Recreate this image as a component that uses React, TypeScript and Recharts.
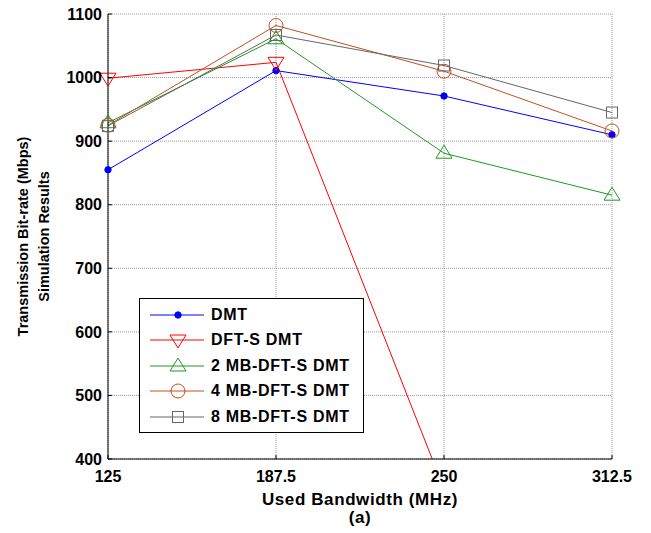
import React from 'react';
import { LineChart, Line, XAxis, YAxis, CartesianGrid, Label } from 'recharts';

const bandwidths = [125, 187.5, 250, 312.5];
const dmt = [855, 1011, 971, 910];
const dftS = [999, 1024, 353, null];
const mb2 = [929, 1061, 881, 815];
const mb4 = [925, 1082, 1010, 916];
const mb8 = [924, 1067, 1019, 945];
const yTicks = [400, 500, 600, 700, 800, 900, 1000, 1100];

const data = bandwidths.map((bw, i) => ({
  bw,
  dmt: dmt[i],
  dftS: dftS[i],
  mb2: mb2[i],
  mb4: mb4[i],
  mb8: mb8[i],
}));

type Shape = 'dot' | 'down' | 'up' | 'circle' | 'square';

const series: { key: string; name: string; color: string; shape: Shape }[] = [
  { key: 'dmt', name: 'DMT', color: '#0000ff', shape: 'dot' },
  { key: 'dftS', name: 'DFT-S DMT', color: '#ff0000', shape: 'down' },
  { key: 'mb2', name: '2 MB-DFT-S DMT', color: '#1f9a1f', shape: 'up' },
  { key: 'mb4', name: '4 MB-DFT-S DMT', color: '#c0501f', shape: 'circle' },
  { key: 'mb8', name: '8 MB-DFT-S DMT', color: '#666666', shape: 'square' },
];

const font = '"Liberation Sans", Arial, sans-serif';

function Marker({ shape, color, cx, cy }: { shape: Shape; color: string; cx: number; cy: number }) {
  if (cx == null || cy == null || isNaN(cx) || isNaN(cy)) return null;
  switch (shape) {
    case 'dot':
      return <circle cx={cx} cy={cy} r={3.2} fill={color} stroke={color} />;
    case 'down':
      return (
        <polygon
          points={`${cx - 8},${cy - 5} ${cx + 8},${cy - 5} ${cx},${cy + 8}`}
          fill="none"
          stroke={color}
          strokeWidth={1}
        />
      );
    case 'up':
      return (
        <polygon
          points={`${cx - 8},${cy + 5} ${cx + 8},${cy + 5} ${cx},${cy - 8}`}
          fill="none"
          stroke={color}
          strokeWidth={1}
        />
      );
    case 'circle':
      return <circle cx={cx} cy={cy} r={7} fill="none" stroke={color} strokeWidth={1} />;
    default:
      return <rect x={cx - 5.5} y={cy - 5.5} width={11} height={11} fill="none" stroke={color} strokeWidth={1} />;
  }
}

const tickStyle = { fontSize: 16, fontWeight: 700, fill: '#000', fontFamily: font };
const xLabelStyle = { fontSize: 17, fontWeight: 700, fontFamily: font, letterSpacing: 0.6 };

export default function App() {
  return (
    <div style={{ position: 'relative', width: 643, height: 525, fontFamily: font }}>
      <LineChart
        width={643}
        height={525}
        data={data}
        margin={{ top: 6, right: 39, bottom: 14, left: 40 }}
        style={{ overflow: 'visible' }}
      >
        <CartesianGrid stroke="#999" strokeDasharray="1 1" />
        <XAxis
          dataKey="bw"
          type="number"
          domain={[125, 312.5]}
          ticks={bandwidths}
          height={60}
          stroke="#000"
          tickSize={-4}
          tickMargin={16}
          tick={tickStyle}
          interval={0}
        >
          <Label
            content={({ viewBox }: any) => (
              <g>
                <text x={viewBox.x + viewBox.width / 2} y={viewBox.y + 46} textAnchor="middle" style={xLabelStyle}>
                  Used Bandwidth (MHz)
                </text>
                <text x={viewBox.x + viewBox.width / 2} y={viewBox.y + 64} textAnchor="middle" style={xLabelStyle}>
                  (a)
                </text>
              </g>
            )}
          />
        </XAxis>
        <XAxis
          xAxisId="top"
          orientation="top"
          dataKey="bw"
          type="number"
          domain={[125, 312.5]}
          ticks={bandwidths}
          height={0}
          stroke="#000"
          tickSize={-4}
          tick={false}
        />
        <YAxis
          domain={[400, 1100]}
          ticks={yTicks}
          allowDataOverflow
          width={60}
          stroke="#000"
          tickSize={-4}
          tickMargin={10}
          tick={tickStyle}
          interval={0}
        >
          <Label
            content={({ viewBox }: any) => {
              const cy = viewBox.y + viewBox.height / 2;
              const x1 = viewBox.x - 20;
              const x2 = viewBox.x + 1;
              return (
                <g style={{ fontSize: 14.5, fontWeight: 700, fontFamily: font }}>
                  <text x={x1} y={cy} textAnchor="middle" transform={`rotate(-90, ${x1}, ${cy})`}>
                    Transmission Bit-rate (Mbps)
                  </text>
                  <text x={x2} y={cy} textAnchor="middle" transform={`rotate(-90, ${x2}, ${cy})`}>
                    Simulation Results
                  </text>
                </g>
              );
            }}
          />
        </YAxis>
        <YAxis
          yAxisId="right"
          orientation="right"
          domain={[400, 1100]}
          ticks={yTicks}
          width={0}
          stroke="#000"
          tickSize={-4}
          tick={false}
        />
        {series.map((s) => (
          <Line
            key={s.key}
            dataKey={s.key}
            name={s.name}
            stroke={s.color}
            strokeWidth={1}
            isAnimationActive={false}
            connectNulls={false}
            dot={(p: any) => <Marker key={`${s.key}-${p.index}`} shape={s.shape} color={s.color} cx={p.cx} cy={p.cy} />}
            activeDot={false}
          />
        ))}
      </LineChart>
      <div
        style={{
          position: 'absolute',
          left: 131,
          top: 290,
          width: 225,
          height: 135,
          boxSizing: 'border-box',
          border: '1px solid #000',
          background: '#fff',
          paddingTop: 3,
        }}
      >
        {series.map((s) => (
          <div key={s.key} style={{ display: 'flex', alignItems: 'center', height: 25.5 }}>
            <svg width={70} height={20} style={{ marginLeft: 4 }}>
              <line x1={6} y1={10} x2={60} y2={10} stroke={s.color} strokeWidth={1} />
              <Marker shape={s.shape} color={s.color} cx={34} cy={10} />
            </svg>
            <span style={{ fontSize: 16, fontWeight: 700, marginLeft: -3, letterSpacing: 0.7, whiteSpace: 'nowrap' }}>
              {s.name}
            </span>
          </div>
        ))}
      </div>
    </div>
  );
}
